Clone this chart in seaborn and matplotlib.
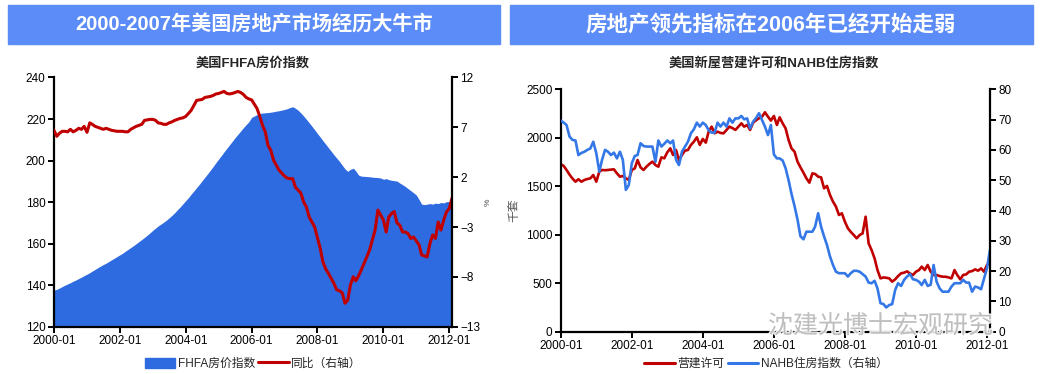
import pandas as pd
import matplotlib
matplotlib.use('Agg')
import matplotlib.pyplot as plt
import matplotlib.patheffects as pe
from matplotlib.patches import Rectangle, Patch
from matplotlib.lines import Line2D
import seaborn as sns

sns.set_theme(style='white')
plt.rcParams['font.family'] = ['Liberation Sans', 'Noto Sans CJK SC', 'DejaVu Sans']
plt.rcParams['axes.unicode_minus'] = False

# ---- data (monthly, 2000-01 .. 2012-02) ----
months = pd.date_range('2000-01-01', periods=146, freq='MS')

fhfa_index = [
    137.6, 138.0, 138.6, 139.3, 140.0, 140.6, 141.2, 141.9, 142.5, 143.2, 143.9, 144.6,
    145.3, 146.0, 146.8, 147.6, 148.4, 149.2, 149.9, 150.6, 151.4, 152.2, 153.0, 153.8,
    154.6, 155.4, 156.3, 157.2, 158.1, 159.0, 160.0, 161.0, 162.0, 163.0, 164.1, 165.2,
    166.4, 167.5, 168.5, 169.4, 170.3, 171.3, 172.4, 173.6, 174.9, 176.3, 177.7, 179.2,
    180.7, 182.2, 183.8, 185.4, 187.0, 188.6, 190.3, 192.0, 193.7, 195.4, 197.2, 199.0,
    200.8, 202.5, 204.2, 205.9, 207.6, 209.3, 211.0, 212.6, 214.2, 215.8, 217.3, 218.7,
    220.8, 221.5, 222.1, 222.6, 222.9, 223.0, 223.1, 223.3, 223.5, 223.8, 224.0, 224.3,
    224.6, 225.0, 225.5, 225.9, 225.2, 224.2, 222.9, 221.4, 219.8, 218.2, 216.5, 214.8,
    213.0, 211.3, 209.6, 207.9, 206.2, 204.5, 202.8, 201.2, 199.6, 197.8, 196.0, 194.8,
    195.8, 196.3, 195.0, 193.0, 192.5, 192.4, 192.3, 192.2, 192.0, 191.9, 191.8, 191.6,
    191.0, 191.3, 190.8, 190.5, 190.3, 190.1, 189.2, 188.4, 187.5, 186.5, 185.5, 184.5,
    183.4, 181.2, 179.0, 178.8, 179.0, 179.3, 179.0, 179.5, 179.3, 179.8, 179.6, 180.2,
    180.2, 179.8,
]

fhfa_yoy = [
    6.7, 6.1, 6.4, 6.6, 6.6, 6.55, 6.8, 6.55, 6.7, 6.9, 6.8, 7.1,
    6.5, 7.45, 7.3, 7.1, 7.0, 6.9, 6.8, 6.9, 6.8, 6.7, 6.65, 6.6,
    6.6, 6.6, 6.55, 6.55, 6.8, 6.95, 7.1, 7.2, 7.3, 7.7, 7.75, 7.8,
    7.8, 7.7, 7.45, 7.4, 7.3, 7.3, 7.45, 7.55, 7.7, 7.8, 7.9, 7.95,
    8.1, 8.4, 8.7, 9.2, 9.7, 9.75, 9.8, 10.0, 10.05, 10.1, 10.2, 10.35,
    10.4, 10.5, 10.6, 10.4, 10.35, 10.4, 10.5, 10.6, 10.5, 10.3, 10.0, 9.85,
    9.75, 9.3, 8.9, 8.1, 7.2, 6.55, 5.2, 4.7, 3.7, 3.2, 2.7, 2.4,
    2.1, 1.9, 1.85, 1.85, 1.0, 0.7, 0.4, -0.5, -1.0, -2.0, -2.5, -3.0,
    -4.1, -5.15, -6.5, -7.2, -7.65, -8.15, -8.65, -9.3, -9.4, -9.6, -10.65, -10.35,
    -8.8, -8.0, -8.4, -7.9, -7.3, -6.65, -6.0, -5.3, -4.3, -3.3, -1.3, -1.8,
    -2.3, -3.5, -2.0, -1.65, -1.45, -2.6, -2.8, -3.5, -3.5, -3.65, -4.15, -4.0,
    -4.4, -4.8, -5.8, -5.9, -6.0, -4.65, -3.8, -4.15, -2.5, -3.3, -2.3, -1.5,
    -1.15, -0.1,
]

permits = [
    1730, 1709, 1668, 1620, 1580, 1547, 1572, 1547, 1565, 1575, 1582, 1616,
    1547, 1651, 1668, 1665, 1668, 1670, 1675, 1633, 1599, 1606, 1582, 1565,
    1668, 1685, 1771, 1695, 1668, 1702, 1730, 1754, 1719, 1702, 1798, 1788,
    1850, 1891, 1823, 1874, 1771, 1823, 1867, 1874, 1926, 1960, 2005, 1926,
    1988, 1950, 2063, 2115, 2046, 2063, 2050, 2046, 2081, 2115, 2100, 2081,
    2115, 2149, 2115, 2132, 2081, 2156, 2180, 2201, 2218, 2263, 2218, 2177,
    2225, 2132, 2211, 2149, 2098, 1977, 1891, 1857, 1754, 1695, 1640, 1582,
    1537, 1633, 1627, 1599, 1592, 1479, 1503, 1410, 1341, 1290, 1204, 1221,
    1135, 1066, 1030, 997, 963, 997, 1014, 1186, 911, 843, 757, 636,
    550, 560, 556, 550, 516, 540, 574, 602, 609, 622, 600, 585,
    619, 636, 671, 636, 688, 619, 585, 585, 574, 567, 567, 560,
    550, 636, 585, 540, 585, 591, 619, 625, 643, 629, 653, 619,
    688, 712,
]

nahb = [
    69.7, 69.0, 68.2, 64.4, 63.3, 63.1, 58.3, 59.0, 59.4, 60.0, 60.5, 62.7,
    58.9, 52.8, 56.7, 60.0, 59.4, 58.3, 59.1, 57.2, 59.4, 56.7, 46.8, 48.4,
    55.6, 58.0, 58.3, 62.2, 61.3, 61.1, 61.1, 61.1, 56.1, 63.1, 61.1, 62.0,
    63.1, 62.2, 63.1, 56.7, 55.0, 59.4, 61.0, 62.7, 65.5, 66.8, 69.0, 67.7,
    69.0, 68.2, 66.5, 65.7, 65.7, 69.0, 67.7, 69.0, 67.7, 70.4, 69.0, 70.4,
    70.4, 71.2, 70.1, 70.4, 67.1, 69.3, 70.5, 72.1, 69.9, 67.7, 64.9, 68.2,
    58.5, 57.2, 57.2, 56.5, 54.0, 50.0, 45.5, 41.5, 37.0, 31.5, 30.5, 33.0,
    33.0, 33.0, 34.7, 39.1, 34.7, 31.4, 28.6, 24.8, 22.0, 19.8, 19.3, 19.3,
    19.3, 18.2, 19.3, 20.1, 20.1, 19.8, 19.0, 18.2, 16.2, 16.0, 16.8, 14.3,
    9.4, 9.1, 8.0, 8.8, 9.1, 13.8, 16.0, 15.1, 17.1, 18.2, 19.0, 17.3,
    17.1, 16.5, 15.4, 17.1, 15.1, 15.5, 22.0, 16.5, 14.3, 13.2, 13.2, 13.2,
    14.9, 16.0, 16.0, 16.0, 17.1, 16.2, 16.2, 13.2, 14.9, 14.6, 14.0, 17.5,
    21.0, 27.0,
]

tick_years = ['2000-01', '2002-01', '2004-01', '2006-01', '2008-01', '2010-01', '2012-01']

banner_left = '2000-2007年美国房地产市场经历大牛市'
banner_right = '房地产领先指标在2006年已经开始走弱'
title_left = '美国FHFA房价指数'
title_right = '美国新屋营建许可和NAHB住房指数'

area_blue = '#2E6BE0'
line_red = '#C00000'
line_blue = '#3478E8'
banner_blue = '#5B8CF7'

fig = plt.figure(figsize=(10.42, 3.74), dpi=100)

# banners
for x0, w, txt, fs in [(0.008, 0.472, banner_left, 14.5), (0.489, 0.502, banner_right, 15.5)]:
    fig.patches.append(Rectangle((x0, 0.882), w, 0.105, transform=fig.transFigure,
                                 color=banner_blue, zorder=0))
    fig.text(x0 + w / 2, 0.934, txt, ha='center', va='center', color='white',
             fontsize=fs, fontweight='bold')

tick_pos = pd.to_datetime(tick_years)
xlim = (months[0], months[-1])


def style_axes(ax, twin):
    for side in ['left', 'right', 'bottom']:
        twin.spines[side].set_visible(side == 'right')
        ax.spines[side].set_visible(side != 'right')
        twin.spines[side].set_color('black')
        ax.spines[side].set_color('black')
        twin.spines[side].set_linewidth(1.6)
        ax.spines[side].set_linewidth(1.6)
    ax.spines['top'].set_visible(False)
    twin.spines['top'].set_visible(False)
    for a in (ax, twin):
        a.tick_params(axis='both', which='major', direction='out', length=4, width=1.4,
                      color='black', labelsize=8.5, pad=2, colors='black')
        a.grid(False)
        a.set_xlabel('')
    ax.tick_params(axis='y', left=True, right=False)
    ax.tick_params(axis='x', bottom=True)
    twin.tick_params(axis='y', right=True, left=False)
    ax.set_xticks(tick_pos)
    ax.set_xticklabels(tick_years)
    ax.set_xlim(*xlim)


# ---- left chart ----
ax1 = fig.add_axes([0.0518, 0.1265, 0.382, 0.6663])
ax1b = ax1.twinx()
ax1.fill_between(months, 120, fhfa_index, color=area_blue, linewidth=0)
ax1.set_ylim(120, 240)
ax1.set_yticks(range(120, 241, 20))
sns.lineplot(x=months, y=fhfa_yoy, ax=ax1b, color=line_red, linewidth=2.2)
ax1b.set_ylim(-13, 12)
ax1b.set_yticks(range(-13, 13, 5))
ax1b.set_yticklabels([str(v).replace('-', '−') for v in range(-13, 13, 5)])
ax1b.set_ylabel('%', fontsize=6, rotation=90, labelpad=3, color='#444444')
ax1.set_ylabel('')
style_axes(ax1, ax1b)
ax1.set_title(title_left, fontsize=9.5, fontweight='bold', pad=8)

fig.legend(handles=[Patch(color=area_blue, label='FHFA房价指数'),
                    Line2D([], [], color=line_red, lw=2.2, label='同比（右轴）')],
           loc='center', bbox_to_anchor=(0.243, 0.027), ncol=2, frameon=False,
           fontsize=8.5, handlelength=2.6, handleheight=1.0, columnspacing=0.3,
           handletextpad=0.2, borderaxespad=0)

# ---- right chart ----
ax2 = fig.add_axes([0.5381, 0.1131, 0.412, 0.6481])
ax2b = ax2.twinx()
sns.lineplot(x=months, y=permits, ax=ax2, color=line_red, linewidth=1.9)
sns.lineplot(x=months, y=nahb, ax=ax2b, color=line_blue, linewidth=1.9)
ax2.set_ylim(0, 2500)
ax2.set_yticks(range(0, 2501, 500))
ax2b.set_ylim(0, 80)
ax2b.set_yticks(range(0, 81, 10))
ax2.set_ylabel('千套', fontsize=8.5, color='#555555', labelpad=4)
ax2b.set_ylabel('')
style_axes(ax2, ax2b)
fig.text(0.7425, 0.832, title_right, ha='center', va='center', fontsize=9.5,
         fontweight='bold')

fig.legend(handles=[Line2D([], [], color=line_red, lw=2.2, label='营建许可'),
                    Line2D([], [], color=line_blue, lw=2.2, label='NAHB住房指数（右轴）')],
           loc='center', bbox_to_anchor=(0.735, 0.027), ncol=2, frameon=False,
           fontsize=8.5, handlelength=2.6, columnspacing=0.3, handletextpad=0.2,
           borderaxespad=0)

# watermark
fig.text(0.845, 0.128, '沈建光博士宏观研究', ha='center', va='center', fontsize=18,
         color='#b8b8b8', alpha=0.9, zorder=10,
         path_effects=[pe.withStroke(linewidth=2, foreground='white')])

fig.savefig('out.png', dpi=100)
